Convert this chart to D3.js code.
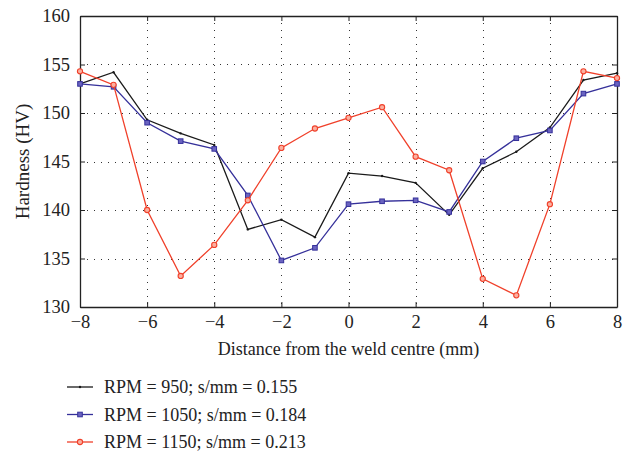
<!DOCTYPE html>
<html>
<head>
<meta charset="utf-8">
<script src="https://cdn.jsdelivr.net/npm/d3@7"></script>
<style>
  body { margin: 0; background: #fff; }
  svg text { font-family: "Liberation Serif", "DejaVu Serif", serif !important; }
</style>
</head>
<body>
<div id="chart"></div>
<script>
const distancia = [-8, -7, -6, -5, -4, -3, -2, -1, 0, 1, 2, 3, 4, 5, 6, 7, 8];
const dureza950 = [153.0, 154.2, 149.3, 147.9, 146.7, 138.0, 139.0, 137.2, 143.8, 143.5, 142.8, 139.5, 144.3, 146.0, 148.5, 153.4, 154.1];
const dureza1050 = [153.0, 152.7, 149.0, 147.1, 146.3, 141.5, 134.8, 136.1, 140.6, 140.9, 141.0, 139.8, 145.0, 147.4, 148.2, 152.0, 153.0];
const dureza1150 = [154.3, 152.9, 140.0, 133.2, 136.4, 141.0, 146.4, 148.4, 149.5, 150.6, 145.5, 144.1, 132.9, 131.2, 140.6, 154.3, 153.6];
const etiquetas = ["RPM = 950; s/mm = 0.155", "RPM = 1050; s/mm = 0.184", "RPM = 1150; s/mm = 0.213"];
const ticksX = [-8, -6, -4, -2, 0, 2, 4, 6, 8];
const ticksY = [130, 135, 140, 145, 150, 155, 160];

const series = [
  { nombre: etiquetas[0], valores: dureza950, color: "#1a1a1a", marca: "punto" },
  { nombre: etiquetas[1], valores: dureza1050, color: "#35309a", marca: "cuadro" },
  { nombre: etiquetas[2], valores: dureza1150, color: "#f0402a", marca: "circulo" }
];

const width = 629, height = 453;
const margin = { left: 80, right: 12, top: 16, bottom: 146 };
const x = d3.scaleLinear().domain([-8, 8]).range([margin.left, width - margin.right]);
const y = d3.scaleLinear().domain([130, 160]).range([height - margin.bottom, margin.top]);

const svg = d3.select("#chart").append("svg")
  .attr("width", width).attr("height", height);

// rejilla punteada
const rejilla = svg.append("g").attr("stroke", "#333").attr("stroke-width", 1)
  .attr("stroke-dasharray", "1,6");
rejilla.selectAll("line.gx").data(ticksX.slice(1, -1)).enter().append("line")
  .attr("x1", d => Math.round(x(d)) + 0.5).attr("x2", d => Math.round(x(d)) + 0.5)
  .attr("y1", y(160)).attr("y2", y(130));
rejilla.selectAll("line.gy").data(ticksY.slice(1, -1)).enter().append("line")
  .attr("y1", d => Math.round(y(d)) + 0.5).attr("y2", d => Math.round(y(d)) + 0.5)
  .attr("x1", x(-8)).attr("x2", x(8));

// ejes con marcas hacia dentro
const ejeAbajo = svg.append("g").attr("transform", `translate(0,${y(130)})`)
  .call(d3.axisBottom(x).tickValues(ticksX).tickSizeInner(-5).tickSizeOuter(0).tickPadding(8).tickFormat(d => d < 0 ? "\u2212" + Math.abs(d) : d));
const ejeArriba = svg.append("g").attr("transform", `translate(0,${y(160)})`)
  .call(d3.axisTop(x).tickValues(ticksX).tickSizeInner(-5).tickSizeOuter(0).tickFormat(""));
const ejeIzq = svg.append("g").attr("transform", `translate(${x(-8)},0)`)
  .call(d3.axisLeft(y).tickValues(ticksY).tickSizeInner(-5).tickSizeOuter(0).tickPadding(10));
const ejeDer = svg.append("g").attr("transform", `translate(${x(8)},0)`)
  .call(d3.axisRight(y).tickValues(ticksY).tickSizeInner(-5).tickSizeOuter(0).tickFormat(""));

[ejeAbajo, ejeArriba, ejeIzq, ejeDer].forEach(g => {
  g.attr("font-family", null);
  g.selectAll("text").attr("font-size", 18.5).attr("fill", "#222");
  g.selectAll("line").attr("stroke", "#222");
  g.select(".domain").attr("stroke", "#222").attr("stroke-width", 1.3);
});

// títulos
svg.append("text").attr("x", (x(-8) + x(8)) / 2).attr("y", 355)
  .attr("text-anchor", "middle").attr("font-size", 18).attr("fill", "#222")
  .text("Distance from the weld centre (mm)");
svg.append("text").attr("transform", `translate(29,${(y(130) + y(160)) / 2}) rotate(-90)`)
  .attr("text-anchor", "middle").attr("font-size", 19).attr("fill", "#222")
  .text("Hardness (HV)");

const linea = d3.line().x((d, i) => x(distancia[i])).y(d => y(d));

function dibujarMarca(g, tipo, color, cx, cy) {
  if (tipo === "punto") {
    g.append("circle").attr("cx", cx).attr("cy", cy).attr("r", 1.2).attr("fill", color);
  } else if (tipo === "cuadro") {
    g.append("rect").attr("x", cx - 2.3).attr("y", cy - 2.3).attr("width", 4.6).attr("height", 4.6)
      .attr("fill", "#6a63c0").attr("stroke", color).attr("stroke-width", 1);
  } else {
    g.append("circle").attr("cx", cx).attr("cy", cy).attr("r", 2.6)
      .attr("fill", "#fbb0a0").attr("stroke", color).attr("stroke-width", 1.1);
  }
}

series.forEach(s => {
  const g = svg.append("g");
  g.append("path").datum(s.valores).attr("d", linea)
    .attr("fill", "none").attr("stroke", s.color).attr("stroke-width", 1.3);
  s.valores.forEach((v, i) => dibujarMarca(g, s.marca, s.color, x(distancia[i]), y(v)));
});

// leyenda
const leyenda = svg.append("g");
series.forEach((s, i) => {
  const ly = 387 + i * 27.5;
  leyenda.append("line").attr("x1", 67).attr("x2", 93).attr("y1", ly).attr("y2", ly)
    .attr("stroke", s.color).attr("stroke-width", 1.3);
  dibujarMarca(leyenda, s.marca, s.color, 80, ly);
  leyenda.append("text").attr("x", 104).attr("y", ly + 6).attr("font-size", 18).attr("fill", "#222")
    .text(s.nombre);
});
</script>
</body>
</html>
